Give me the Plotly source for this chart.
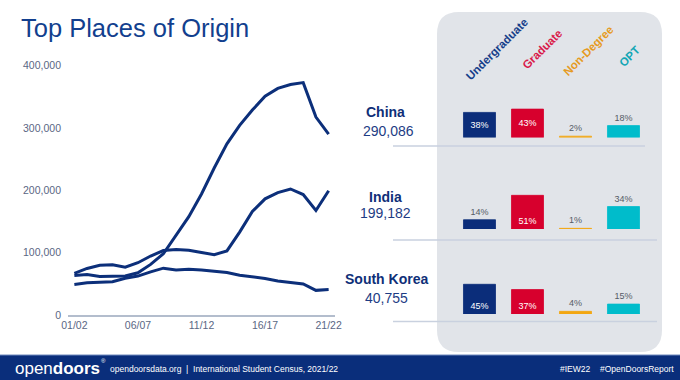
import plotly.graph_objects as go

# ---------------- data ----------------
years = ["01/02", "02/03", "03/04", "04/05", "05/06", "06/07", "07/08", "08/09", "09/10", "10/11",
         "11/12", "12/13", "13/14", "14/15", "15/16", "16/17", "17/18", "18/19", "19/20", "20/21", "21/22"]
china = [63211, 64757, 61765, 62523, 62582, 67723, 81127, 98235, 127628, 157558,
         194029, 235597, 274439, 304040, 328547, 350755, 363341, 369548, 372532, 317299, 290086]
india = [66836, 74603, 79736, 80466, 76503, 83833, 94563, 103260, 104897, 103895,
         100270, 96754, 102673, 132888, 165918, 186267, 196271, 202014, 193124, 167582, 199182]
korea = [49046, 51519, 52484, 53358, 59022, 62392, 69124, 75065, 72153, 73351,
         72295, 70627, 68047, 63710, 61007, 58663, 54555, 52250, 49809, 39491, 40755]
x_ticks = ["01/02", "06/07", "11/12", "16/17", "21/22"]
y_ticks = [0, 100000, 200000, 300000, 400000]

countries = ["China", "India", "South Korea"]
totals = [290086, 199182, 40755]
levels = ["Undergraduate", "Graduate", "Non-Degree", "OPT"]
undergrad = [38, 14, 45]
graduate = [43, 51, 37]
nondegree = [2, 1, 4]
opt = [18, 34, 15]

# ---------------- style ----------------
W, H = 680, 380
FONT = "Liberation Sans, Arial, sans-serif"
NAVY = "#0c2f7a"
TITLE = "#123f8e"
GRAY = "#5a6784"
level_colors = ["#0b2d7a", "#d7002d", "#f3a712", "#00bccb"]
header_colors = ["#163e8a", "#d9194a", "#e69a22", "#12a6b5"]

def px(x):
    return x / W

def py(y):
    return 1 - y / H

fig = go.Figure()

# line chart
for s in [china, india, korea]:
    fig.add_trace(go.Scatter(x=years, y=s, mode="lines",
                             line=dict(color=NAVY, width=3), hoverinfo="skip",
                             xaxis="x", yaxis="y", showlegend=False))

# bar rows
baselines = [137.5, 229, 314]
anchors = ["middle", "start", "start"]
shares = list(zip(undergrad, graduate, nondegree, opt))
for i, c in enumerate(countries):
    vals = list(shares[i])
    pos = ["inside" if v >= 37 else "outside" for v in vals]
    ax = i + 2
    fig.add_trace(go.Bar(
        x=levels, y=vals, text=[f"{v}%" for v in vals], textposition=pos,
        insidetextanchor=anchors[i],
        insidetextfont=dict(color="white", size=9, family=FONT),
        outsidetextfont=dict(color="#555b66", size=9, family=FONT),
        marker=dict(color=level_colors, line=dict(color=level_colors, width=0.8)),
        width=0.667, cliponaxis=False, hoverinfo="skip", showlegend=False,
        xaxis=f"x{ax}", yaxis=f"y{ax}"))

layout_axes = {}
bx0, bx1 = px(455.5), px(647.5)
for i, b in enumerate(baselines):
    ax = i + 2
    layout_axes[f"xaxis{ax}"] = dict(domain=[bx0, bx1], range=[-0.5, 3.5], visible=False,
                                     anchor=f"y{ax}", fixedrange=True, automargin=False)
    layout_axes[f"yaxis{ax}"] = dict(domain=[(H - b) / H, (H - b + 39.6) / H], range=[0, 60],
                                     visible=False, anchor=f"x{ax}", fixedrange=True, automargin=False)

shapes = []
# panel rounded rect
x0, x1, y0, y1 = 437, 662, 12, 352
r = 22
rx, ry = r / W, r / H
X0, X1, Y0, Y1 = px(x0), px(x1), py(y0), py(y1)
path = (f"M {X0+rx},{Y0} L {X1-rx},{Y0} Q {X1},{Y0} {X1},{Y0-ry} "
        f"L {X1},{Y1+ry} Q {X1},{Y1} {X1-rx},{Y1} "
        f"L {X0+rx},{Y1} Q {X0},{Y1} {X0},{Y1+ry} "
        f"L {X0},{Y0-ry} Q {X0},{Y0} {X0+rx},{Y0} Z")
shapes.append(dict(type="path", path=path, xref="paper", yref="paper",
                   fillcolor="#e1e4e9", line=dict(width=0), layer="below"))
# separators
for yy, xe in [(146, 645), (240, 657), (321.5, 657)]:
    shapes.append(dict(type="line", xref="paper", yref="paper", x0=px(393), x1=px(xe),
                       y0=py(yy), y1=py(yy), line=dict(color="#c9d1df", width=1.5), layer="below"))
# footer
shapes.append(dict(type="rect", xref="paper", yref="paper", x0=0, x1=1, y0=0, y1=py(355),
                   fillcolor="#0a2e7b", line=dict(width=0)))
shapes.append(dict(type="line", xref="paper", yref="paper", x0=0, x1=1, y0=py(355), y1=py(355),
                   line=dict(color="#6f88bd", width=1)))

annotations = []
annotations.append(dict(text="Top Places of Origin", x=px(19), y=py(27.5), xref="paper", yref="paper",
                        xanchor="left", yanchor="middle", showarrow=False,
                        font=dict(size=25.5, color=TITLE, family=FONT)))
# headers
header_pos = [(497, 49), (542.5, 49), (588, 51), (630, 56.5)]
for name, col, (hx, hy) in zip(levels, header_colors, header_pos):
    annotations.append(dict(text=f"<b>{name}</b>", x=px(hx), y=py(hy), xref="paper", yref="paper",
                            xanchor="center", yanchor="middle", showarrow=False, textangle=-45,
                            font=dict(size=11.5, color=col, family=FONT)))
# country labels
name_pos = [(385, 112.5), (385, 196.5), (386.5, 279)]
num_pos = [(388, 131), (385, 213), (386, 298)]
for c, t, (nx, ny), (mx, my) in zip(countries, totals, name_pos, num_pos):
    annotations.append(dict(text=f"<b>{c}</b>", x=px(nx), y=py(ny), xref="paper", yref="paper",
                            xanchor="center", yanchor="middle", showarrow=False,
                            font=dict(size=14, color="#0f2f78", family=FONT)))
    annotations.append(dict(text=f"{t:,}", x=px(mx), y=py(my), xref="paper", yref="paper",
                            xanchor="center", yanchor="middle", showarrow=False,
                            font=dict(size=14, color="#1d3c84", family=FONT)))
# footer texts
annotations.append(dict(text="open<b>doors</b>", x=px(13), y=py(368), xref="paper", yref="paper",
                        xanchor="left", yanchor="middle", showarrow=False,
                        font=dict(size=17, color="white", family=FONT)))
annotations.append(dict(text="®", x=px(99), y=py(361), xref="paper", yref="paper",
                        xanchor="left", yanchor="middle", showarrow=False,
                        font=dict(size=6, color="white", family=FONT)))
annotations.append(dict(text="opendoorsdata.org  |  International Student Census, 2021/22", x=px(108), y=py(369),
                        xref="paper", yref="paper", xanchor="left", yanchor="middle", showarrow=False,
                        font=dict(size=8.5, color="white", family=FONT)))
annotations.append(dict(text="#IEW22", x=px(593), y=py(369), xref="paper", yref="paper",
                        xanchor="right", yanchor="middle", showarrow=False,
                        font=dict(size=8.5, color="white", family=FONT)))
annotations.append(dict(text="#OpenDoorsReport", x=px(676), y=py(369), xref="paper", yref="paper",
                        xanchor="right", yanchor="middle", showarrow=False,
                        font=dict(size=8.5, color="white", family=FONT)))

fig.update_layout(
    template="none",
    width=W, height=H, margin=dict(l=0, r=0, t=0, b=0, pad=0, autoexpand=False),
    paper_bgcolor="white", plot_bgcolor="rgba(0,0,0,0)",
    font=dict(family=FONT),
    showlegend=False,
    xaxis=dict(domain=[px(68), px(335)], type="category", range=[-0.5, 20.5],
               tickmode="array", tickvals=x_ticks, ticktext=x_ticks, ticks="",
               showgrid=False, zeroline=False, showline=True, linecolor="#b3bdcd", linewidth=1.5,
               tickfont=dict(size=10.5, color=GRAY), anchor="y", fixedrange=True, automargin=False),
    yaxis=dict(domain=[py(315), py(65.5)], range=[0, 400000], tickvals=y_ticks,
               tickformat=",d", ticks="", showgrid=False, zeroline=False, showline=False,
               tickfont=dict(size=10.5, color=GRAY), ticklabelstandoff=6, anchor="x", fixedrange=True,
               automargin=False),
    shapes=shapes, annotations=annotations, bargap=0.3,
    **layout_axes,
)

fig.write_html("out.html", config={"displayModeBar": False},
               post_script="document.body.style.margin='0';document.body.style.overflow='hidden';")
